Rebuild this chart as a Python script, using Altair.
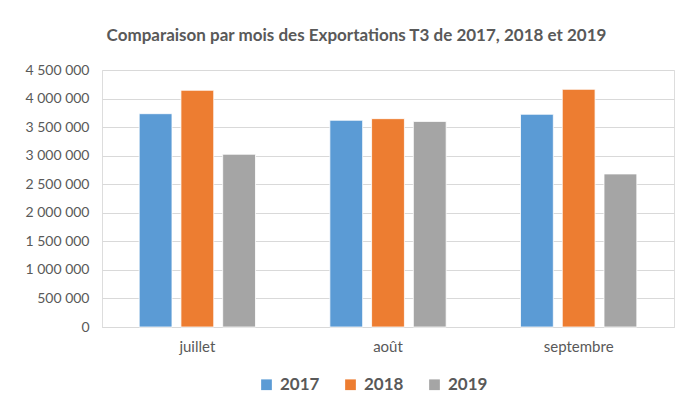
import altair as alt
import pandas as pd

months = ["juillet", "août", "septembre"]
years = ["2017", "2018", "2019"]
v2017 = [3735000, 3620000, 3725000]
v2018 = [4145000, 3648000, 4162000]
v2019 = [3025000, 3600000, 2680000]

rows = []
for i, m in enumerate(months):
    for y, vals in zip(years, [v2017, v2018, v2019]):
        rows.append({"mois": m, "annee": y, "valeur": vals[i]})
df = pd.DataFrame(rows)

colors = ["#5B9BD5", "#ED7D31", "#A5A5A5"]
FONT = "Lato"
GREY = "#595959"

chart = alt.Chart(df).mark_bar(stroke="white", strokeWidth=0.8).encode(
    x=alt.X("mois:N", sort=months, title=None,
            scale=alt.Scale(paddingInner=0.39, paddingOuter=0.195),
            axis=alt.Axis(labelAngle=0, labelFont=FONT, labelFontSize=15,
                          labelColor=GREY, labelPadding=12, ticks=False,
                          domainColor="#D9D9D9", domainWidth=1)),
    xOffset=alt.XOffset("annee:N", sort=years,
                        scale=alt.Scale(paddingInner=0.214, paddingOuter=0)),
    y=alt.Y("valeur:Q", title=None,
            scale=alt.Scale(domain=[0, 4500000], nice=False),
            axis=alt.Axis(values=[i * 500000 for i in range(10)],
                          labelExpr="replace(format(datum.value, ','), regexp(',', 'g'), ' ')",
                          labelFont=FONT, labelFontSize=14, labelColor=GREY,
                          labelPadding=13, ticks=False, domain=False,
                          gridColor="#D9D9D9", gridWidth=1)),
    color=alt.Color("annee:N", sort=years, title=None,
                    scale=alt.Scale(domain=years, range=colors),
                    legend=alt.Legend(orient="none", legendX=156, legendY=306,
                                      direction="horizontal",
                                      symbolType="square", symbolSize=115,
                                      symbolStrokeWidth=0,
                                      labelFont=FONT, labelFontSize=17,
                                      labelFontWeight="bold", labelColor=GREY,
                                      labelOffset=5, columnPadding=22)),
).properties(
    width=572,
    height=257,
    padding={"left": 16, "top": 19, "right": 1, "bottom": 5},
    title=alt.Title("Comparaison par mois des Exportations T3 de 2017, 2018 et 2019",
                    font=FONT, fontSize=17, fontWeight="bold", color=GREY,
                    frame="bounds", anchor="middle", offset=18, dx=7),
).configure_view(stroke=None).configure(background="white")

chart.save("out.html", embed_options={"renderer": "svg", "actions": False})
